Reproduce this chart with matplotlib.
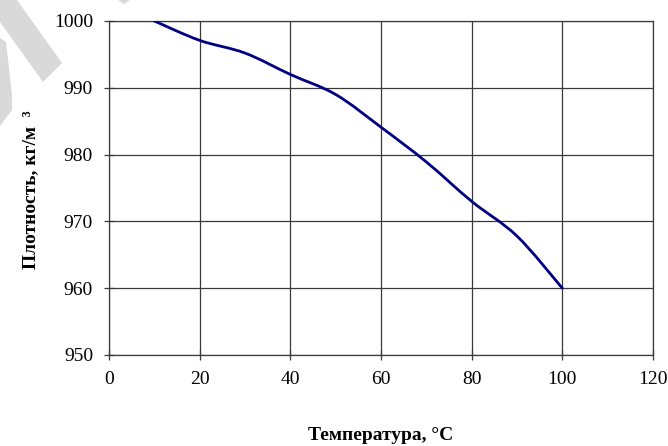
import numpy as np
import matplotlib
matplotlib.use("Agg")
import matplotlib.pyplot as plt
from matplotlib.path import Path
from matplotlib.patches import PathPatch, Polygon

# water density vs temperature
temperature = [10, 20, 30, 40, 50, 60, 70, 80, 90, 100]
density = [1000.0, 997.1, 995.2, 992.0, 989.0, 984.1, 978.9, 973.0, 967.8, 960.0]

x_ticks = [0, 20, 40, 60, 80, 100, 120]
y_ticks = [950, 960, 970, 980, 990, 1000]

W, H = 668, 446


def smooth_path(xs, ys):
    # Excel-like smoothed line: cubic Bezier through every point
    p = np.column_stack([xs, ys]).astype(float)
    ext = np.vstack([p[0], p, p[-1]])
    verts = [p[0]]
    codes = [Path.MOVETO]
    for i in range(len(p) - 1):
        a, b, c, d = ext[i], ext[i + 1], ext[i + 2], ext[i + 3]
        verts += [b + (c - a) / 6, c - (d - b) / 6, c]
        codes += [Path.CURVE4] * 3
    return Path(verts, codes)


plt.rcParams['font.family'] = ['Liberation Serif', 'DejaVu Serif']

fig = plt.figure(figsize=(W / 100, H / 100), dpi=100)
ax = fig.add_axes([109 / W, 1 - 355 / H, (653 - 109) / W, (355 - 21) / H])

ax.add_patch(PathPatch(smooth_path(temperature, density), fill=False,
                       edgecolor='#000080', lw=2.0, capstyle='round', zorder=3))

ax.set_xlim(0, 120)
ax.set_ylim(950, 1000)
ax.set_xticks(x_ticks)
ax.set_yticks(y_ticks)
ax.grid(True, color='#3a3a3a', lw=0.9)
ax.set_axisbelow(True)
for s in ax.spines.values():
    s.set_color('#3a3a3a')
    s.set_linewidth(0.9)
ax.tick_params(direction='inout', length=7, width=0.9, color='#3a3a3a',
               labelsize=14, pad=8)

ax.set_xlabel('Температура, °C', fontsize=14, fontweight='bold')
ax.set_ylabel('Плотность, кг/м  ³', fontsize=14, fontweight='bold')
ax.xaxis.set_label_coords(0.5, (355 - 436) / 334)
ax.xaxis.label.set_va('center')
ax.yaxis.set_label_coords((31 - 109) / 544, (355 - 190) / 334)
ax.yaxis.label.set_va('center')

# faint watermark fragments in the top-left corner
def px(pts):
    return [(x / W, 1 - y / H) for x, y in pts]

for pts in ([(0, 0), (17, 0), (62, 63), (43, 82), (0, 22)],
            [(0, 38), (6, 42), (12, 95), (12, 110), (0, 126)],
            [(118, 0), (130, 0), (124, 4)]):
    fig.patches.append(Polygon(px(pts), closed=True, transform=fig.transFigure,
                               facecolor='#d9d9d9', edgecolor='none', zorder=0))

fig.savefig('out.png', dpi=100)
